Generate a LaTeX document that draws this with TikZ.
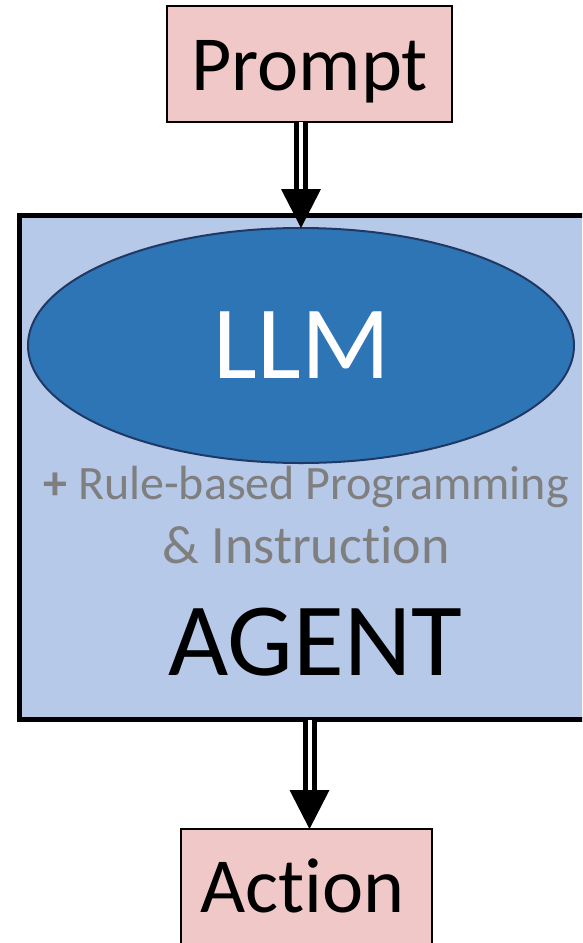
\documentclass[tikz,border=0pt]{standalone}
\usepackage{fontspec}
\setmainfont{Carlito}[Ligatures={NoCommon}]
\usetikzlibrary{calc,shapes.geometric}

\definecolor{boxpink}{RGB}{240,200,200}
\definecolor{agentfill}{RGB}{183,201,232}
\definecolor{llmfill}{RGB}{46,117,182}
\definecolor{llmedge}{RGB}{31,56,100}
\definecolor{notegrey}{RGB}{127,127,127}

\tikzset{
  pinkbox/.style={draw=black, line width=1.2pt, fill=boxpink, inner sep=0pt, outer sep=0pt},
  agentbox/.style={draw=black, line width=5pt, fill=agentfill, inner sep=0pt, outer sep=0pt},
  llmshape/.style={ellipse, draw=llmedge, line width=2pt, fill=llmfill, inner sep=0pt, outer sep=0pt},
  dblline/.style={draw=black, double=white, line width=5pt, double distance=4pt},
  tiphead/.style={fill=black},
  boxlabel/.style={anchor=base, inner sep=0pt, font=\fontsize{78}{82}\selectfont},
  biglabel/.style={anchor=base, inner sep=0pt, font=\fontsize{104}{110}\selectfont},
  notelabel/.style={anchor=base, inner sep=0pt, text=notegrey, font=\fontsize{48}{52}\selectfont}
}

\begin{document}
\begin{tikzpicture}[x=1pt, y=-1pt]
  \useasboundingbox (0,0) rectangle (582,943);
  \clip (0,0) rectangle (582,943);

  % agent container (runs off the right edge)
  \node[agentbox, minimum width=580.5pt, minimum height=504pt] (agent) at (309.75,467.5) {};

  % LLM core
  \node[llmshape, minimum width=546pt, minimum height=235pt] (llm) at (301,345.5) {};
  \node[biglabel, text=white] (llmtext) at (302,378.3) {LLM};

  % extra capabilities
  \node[notelabel] (note1) at (306,499.3) {\textbf{+} Rule-based Programming};
  \node[notelabel, font=\fontsize{54}{58}\selectfont] (note2) at (306,563.3) {\& Instruction};
  \node[biglabel] (agenttext) at (315,675) {AGENT};

  % input and output boxes
  \node[pinkbox, minimum width=285pt, minimum height=116pt] (prompt) at (309.5,64) {};
  \node[boxlabel] (prompttext) at (309.5,90) {Prompt};
  \node[pinkbox, minimum width=251pt, minimum height=131pt] (action) at (306.5,894.5) {};
  \node[boxlabel] (actiontext) at (302.5,912) {Action};

  % Prompt -> LLM
  \coordinate (inbase) at ($(llm.north)+(0,-39)$);
  \draw[dblline] (llm.north |- prompt.south) -- (inbase);
  \fill[tiphead] (llm.north) -- ($(inbase)+(-20,0)$) -- ($(inbase)+(20,0)$) -- cycle;

  % Agent -> Action
  \coordinate (outtip) at (prompt.center |- action.north);
  \coordinate (outbase) at ($(outtip)+(0,-39)$);
  \draw[dblline] (prompt.center |- agent.south) -- (outbase);
  \fill[tiphead] (outtip) -- ($(outbase)+(-20,0)$) -- ($(outbase)+(20,0)$) -- cycle;
\end{tikzpicture}
\end{document}
